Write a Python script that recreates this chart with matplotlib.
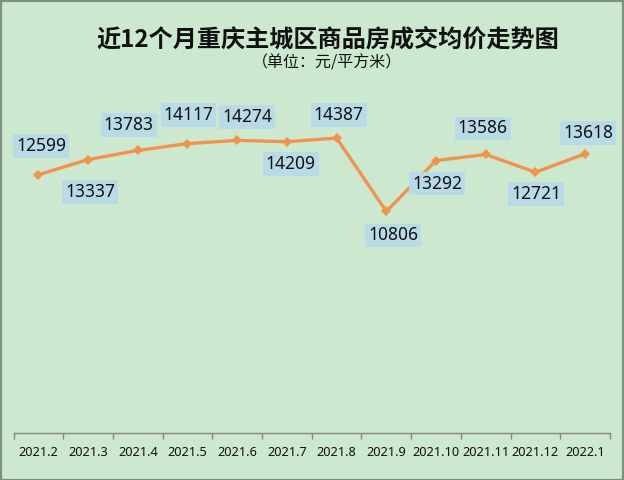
import matplotlib
matplotlib.use("Agg")
import matplotlib.pyplot as plt
from matplotlib.patches import Rectangle

plt.rcParams['font.family'] = ['Noto Sans', 'Noto Sans CJK SC', 'DejaVu Sans']

months = ["2021.2", "2021.3", "2021.4", "2021.5", "2021.6", "2021.7",
          "2021.8", "2021.9", "2021.10", "2021.11", "2021.12", "2022.1"]
prices = [12599, 13337, 13783, 14117, 14274, 14209,
          14387, 10806, 13292, 13586, 12721, 13618]
title = "近12个月重庆主城区商品房成交均价走势图"
subtitle = "（单位：元/平方米）"

# label offsets in pixels (dx right, dy up)
label_offsets = [(3, 29), (2, -32), (-9, 25), (1, 28.5), (10, 23), (4, -22),
                 (2, 23), (7, -24), (1, -23), (-3, 26), (1, -22), (3, 21)]

bg = '#cce8cf'
W, H = 624, 480
fig = plt.figure(figsize=(W / 100, H / 100), dpi=100, facecolor=bg)

ax_left, ax_right = 13.5, 610
ax_bottom, ax_top = 433, 105
ax = fig.add_axes([ax_left / W, 1 - ax_bottom / H,
                   (ax_right - ax_left) / W, (ax_bottom - ax_top) / H])
ax.set_facecolor(bg)
ax.patch.set_alpha(0)

x = list(range(len(months)))
ax.plot(x, prices, color='#f0944d', linewidth=2.4, marker='D',
        markersize=5.5, markeredgewidth=0, zorder=3, clip_on=False)
ax.set_xlim(-0.5, len(months) - 0.5)
ax.set_ylim(0, 16000)

for i, (v, off) in enumerate(zip(prices, label_offsets)):
    ax.annotate(str(v), (i, v), xytext=off, textcoords='offset pixels',
                ha='center', va='center', fontsize=12.5, color='#111111',
                zorder=5, annotation_clip=False,
                bbox=dict(boxstyle='square,pad=0.17', fc='#b9dbe8', ec='none'))

for s in ['left', 'right', 'top']:
    ax.spines[s].set_visible(False)
ax.spines['bottom'].set_color('#868686')
ax.spines['bottom'].set_linewidth(1.0)
ax.set_yticks([])
ax.set_xticks(x)
ax.set_xticklabels(months, fontsize=9.2, color='#111111')
ax.set_xticks([i - 0.5 for i in range(len(months) + 1)], minor=True)
ax.tick_params(axis='x', which='major', length=0, pad=9)
ax.tick_params(axis='x', which='minor', length=4, width=1.0, color='#868686',
               direction='out')

fig.text(328 / W, 1 - 40 / H, title, ha='center', va='center',
         fontsize=17.4, fontweight='bold', family=['Noto Sans CJK SC', 'DejaVu Sans'],
         color='#111111')
fig.text(327 / W, 1 - 63 / H, subtitle, ha='center', va='center',
         fontsize=11.5, family=['Noto Sans CJK SC', 'DejaVu Sans'], color='#111111')

fig.patches.append(Rectangle((0.5 / W, 0.5 / H), 1 - 1.5 / W, 1 - 1.5 / H,
                             transform=fig.transFigure, fill=False,
                             edgecolor='#7f8f80', linewidth=1.6))

fig.savefig('out.png', dpi=100, facecolor=bg)
